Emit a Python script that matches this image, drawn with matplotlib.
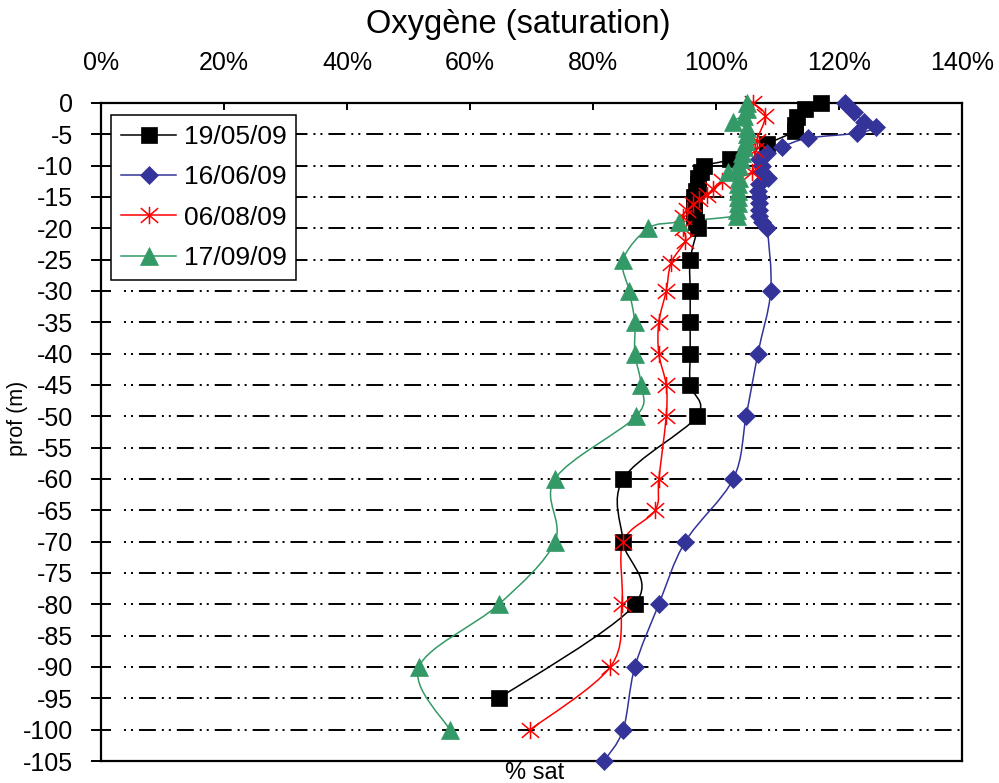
import matplotlib
matplotlib.use('Agg')
import matplotlib.pyplot as plt
import numpy as np
from matplotlib.path import Path
from matplotlib.patches import PathPatch
from matplotlib.lines import Line2D

plt.rcParams['font.family'] = ['Liberation Sans', 'DejaVu Sans']
plt.rcParams['axes.unicode_minus'] = False
plt.rcParams['lines.scale_dashes'] = False

# Data (depth in m, oxygen saturation in %)
labels = ['19/05/09', '16/06/09', '06/08/09', '17/09/09']

black_depth = [0, -1, -2.2, -3.5, -4.5, -6.5, -9, -10, -11, -12, -13, -14, -15, -16, -17, -18,
               -19, -20, -25, -30, -35, -40, -45, -50, -60, -70, -80, -95]
black_sat = [117, 114.5, 113.2, 112.8, 112.8, 108.3, 102.3, 98, 97.5, 97, 97, 96.7, 96.5, 96.5,
             96.5, 96.5, 96.8, 97, 95.8, 95.8, 95.8, 95.8, 95.8, 96.9, 84.9, 84.9, 86.8, 64.7]

blue_depth = [0, -1.5, -3, -3.8, -4.8, -5.6, -7, -8, -9, -10, -11, -12, -13, -14, -15, -16, -17,
              -18, -19, -20, -30, -40, -50, -60, -70, -80, -90, -100, -105]
blue_sat = [121, 122.5, 124, 126, 123, 115, 110.7, 108.3, 107, 107.5, 107.5, 108.5, 107, 106.8,
            107, 107, 107, 107, 107.5, 108.3, 108.9, 106.8, 104.9, 102.8, 95, 90.7, 86.8, 84.9, 81.8]

red_depth = [0, -2, -6, -7.5, -11, -12.5, -13.7, -14.7, -15.3, -16.1, -17, -18.2, -20, -22,
             -25.5, -30, -35, -40, -45, -50, -60, -65, -70, -80, -90, -100]
red_sat = [106, 108, 106.6, 106.3, 105.8, 101, 99.5, 98.5, 97.2, 96.3, 95.3, 94.6, 94.6, 95,
           92.7, 91.9, 90.7, 90.7, 91.9, 91.9, 90.7, 90.1, 84.9, 84.7, 82.8, 69.8]

green_depth = [0, -1, -2, -3, -4, -5, -6, -7, -8, -9, -10, -11, -12, -13, -14, -15, -16, -17,
               -18, -19, -20, -25, -30, -35, -40, -45, -50, -60, -70, -80, -90, -100]
green_sat = [105, 105, 104.5, 102.8, 105, 105, 104.8, 104.5, 104.3, 104, 103.8, 102, 103.7,
             103.5, 103.5, 103.5, 103.5, 103.4, 103.4, 94, 89, 84.9, 85.9, 86.8, 86.8, 87.8, 87,
             73.8, 73.8, 64.7, 51.7, 56.7]

x_ticks = [0, 20, 40, 60, 80, 100, 120, 140]
y_ticks = list(range(0, -106, -5))


def smooth_path(x, y):
    # Excel-like smoothed line as cubic Bezier segments
    p = np.column_stack([x, y]).astype(float)
    n = len(p)
    verts = [p[0]]
    codes = [Path.MOVETO]
    for i in range(n - 1):
        p0 = p[max(i - 1, 0)]
        p1 = p[i]
        p2 = p[i + 1]
        p3 = p[min(i + 2, n - 1)]
        c1 = p1 + (p2 - p0) / 6.
        c2 = p2 - (p3 - p1) / 6.
        verts += [c1, c2, p2]
        codes += [Path.CURVE4] * 3
    return Path(verts, codes)


# asterisk-like star marker (X + vertical bar)
star = Path([(-1, -0.85), (1, 0.85), (-1, 0.85), (1, -0.85), (0, -1), (0, 1)],
            [Path.MOVETO, Path.LINETO, Path.MOVETO, Path.LINETO, Path.MOVETO, Path.LINETO])

series = [
    (black_sat, black_depth, 'black', 's', 12.2, 'black'),
    (blue_sat, blue_depth, '#333399', 'D', 9.2, '#333399'),
    (red_sat, red_depth, '#ff0000', star, 12.5, 'none'),
    (green_sat, green_depth, '#339966', '^', 12.5, '#339966'),
]

fig = plt.figure(figsize=(9.99, 7.83), dpi=100)
ax = fig.add_axes([101 / 999, 22 / 783, 861 / 999, 658 / 783])

# gridlines
for yv in y_ticks[1:-1]:
    ax.axhline(yv, xmin=0.02, color='black', lw=1.4,
               linestyle=(12.2, (12.2, 4.3, 1.44, 3.6, 1.44, 4.3)), zorder=1)

handles = []
for xs, ys, col, mk, ms, fc in series:
    ax.add_patch(PathPatch(smooth_path(xs, ys), fill=False, edgecolor=col, lw=1.1, zorder=3))
    ax.plot(xs, ys, linestyle='none', marker=mk, ms=ms, mfc=fc, mec=col,
            mew=1.1 if fc == 'none' else 0.5, zorder=4, clip_on=False)
    handles.append(Line2D([], [], color=col, lw=1.1, marker=mk, ms=ms, mfc=fc, mec=col,
                          mew=1.1 if fc == 'none' else 0.5))

ax.set_xlim(0, 140)
ax.set_ylim(-105, 0)
ax.xaxis.tick_top()
ax.set_xticks(x_ticks)
ax.set_xticklabels([f'{v}%' for v in x_ticks])
ax.set_yticks(y_ticks)
ax.set_yticklabels([str(v) for v in y_ticks])
ax.tick_params(axis='x', direction='in', length=5, width=1.4, pad=20, labelsize=18)
ax.tick_params(axis='y', direction='inout', length=14, width=1.4, pad=13, labelsize=18)
for s in ax.spines.values():
    s.set_linewidth(1.6)

leg = ax.legend(handles, labels, loc='upper left', bbox_to_anchor=(0.0116, 0.9818),
                borderaxespad=0, fontsize=19, handlelength=2.1, handletextpad=0.27,
                borderpad=0.38, labelspacing=0.62, fancybox=False, framealpha=1,
                edgecolor='black')
leg.get_frame().set_linewidth(1.1)

fig.text(518 / 999, 1 - 25 / 783, 'Oxygène (saturation)', ha='center', va='center', fontsize=23.5)
fig.text(535 / 999, 1 - 779 / 783, '% sat', ha='center', va='baseline', fontsize=17)
fig.text(18 / 999, 1 - 418 / 783, 'prof (m)', ha='center', va='center', rotation=90, fontsize=15.5)

fig.savefig('out.png', dpi=100)
